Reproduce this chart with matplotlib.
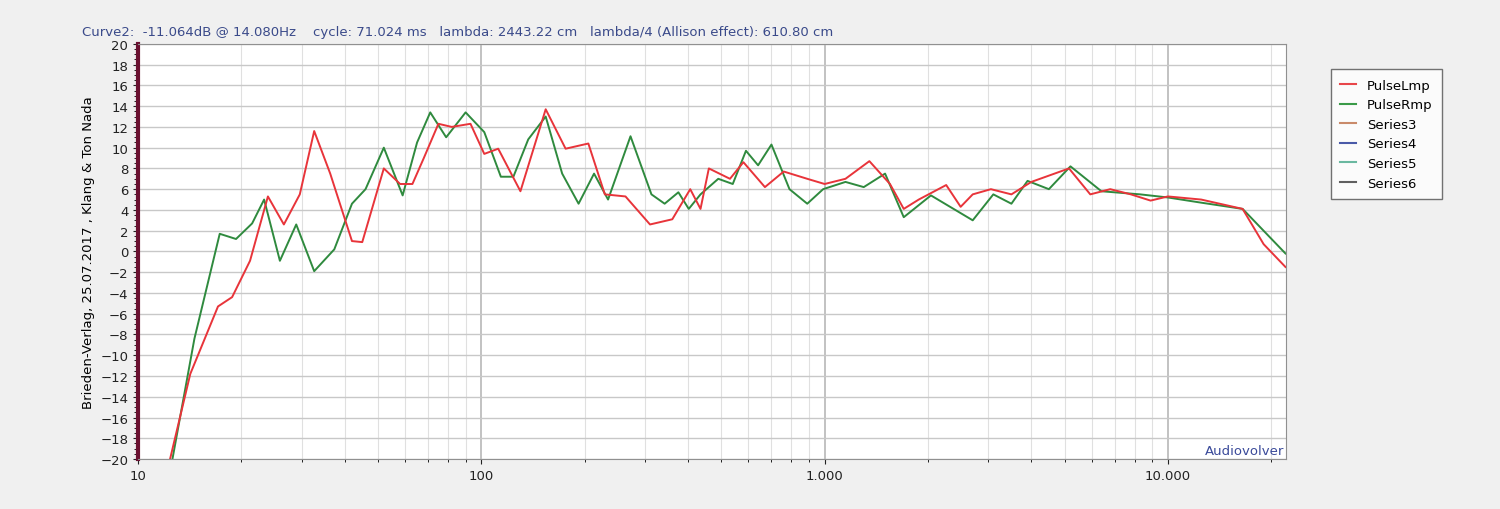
import matplotlib
matplotlib.use("Agg")
import matplotlib.pyplot as plt
from matplotlib.ticker import FixedLocator, NullFormatter, MultipleLocator
from matplotlib.lines import Line2D

red_f = [12.4,14.2,17.1,18.8,21.2,23.9,26.6,29.6,32.6,36.3,42,45,52,58,63,68,75,82,93,102,112,130,154,176,205,229,263,310,360,406,435,460,530,580,670,760,890,1000,1150,1350,1550,1700,1880,2260,2490,2700,3050,3500,4000,5150,5940,6790,7800,8900,10000,12500,16500,19000,22000]
red_db = [-20,-11.8,-5.3,-4.4,-0.9,5.3,2.6,5.5,11.6,7.5,1.0,0.9,8,6.5,6.5,9,12.3,12,12.3,9.4,9.9,5.8,13.7,9.9,10.4,5.5,5.3,2.6,3.1,6,4.1,8,7,8.6,6.2,7.7,7,6.5,7,8.7,6.5,4.1,5,6.4,4.3,5.5,6,5.5,6.7,8,5.5,6,5.5,4.9,5.3,5,4.1,0.7,-1.5]
green_f = [12.6,14.6,17.3,19.3,21.5,23.3,25.9,28.9,32.6,37.3,42,46,52,59,65,71,79,90,102,114,124,137,154,172,192,213,234,272,313,342,375,402,435,490,540,590,640,700,790,890,990,1150,1300,1500,1700,2040,2700,3100,3500,3900,4500,5200,6400,8300,10000,12500,16500,22000]
green_db = [-20,-8.4,1.7,1.2,2.7,5,-0.9,2.6,-1.9,0.2,4.6,6,10,5.4,10.5,13.4,11,13.4,11.5,7.2,7.2,10.8,13,7.5,4.6,7.5,5,11.1,5.5,4.6,5.7,4.1,5.5,7,6.5,9.7,8.3,10.3,6,4.6,6,6.7,6.2,7.5,3.3,5.4,3,5.5,4.6,6.8,6,8.2,5.8,5.5,5.2,4.7,4.1,-0.2]
legend_labels = ["PulseLmp","PulseRmp","Series3","Series4","Series5","Series6"]
legend_colors = ["#e8464a","#3a9a48","#c98a6a","#4a5aa8","#6ab8a0","#606060"]
xtick_vals = [10,100,1000,10000]
xtick_labels = ["10","100","1.000","10.000"]

fig = plt.figure(figsize=(15,5.1), dpi=100, facecolor="#f0f0f0")
ax = fig.add_axes([0.092,0.098,0.765,0.814])
ax.set_facecolor("white")
ax.set_xscale("log")
ax.set_xlim(10,22000)
ax.set_ylim(-20,20)
ax.yaxis.set_major_locator(MultipleLocator(2))
ax.yaxis.set_minor_locator(MultipleLocator(0.5))
ax.xaxis.set_major_locator(FixedLocator(xtick_vals))
ax.set_xticklabels(xtick_labels)
ax.xaxis.set_minor_formatter(NullFormatter())
ax.grid(True, which="major", axis="y", color="#c8c8c8", lw=1)
ax.grid(True, which="major", axis="x", color="#b8b8b8", lw=1.2)
ax.grid(True, which="minor", axis="x", color="#e0e0e0", lw=0.8)
ax.tick_params(axis="both", labelsize=9.5, colors="#222222")
ax.tick_params(axis="y", which="minor", length=3)
for s in ax.spines.values():
    s.set_color("#909090")
ax.spines["left"].set_color("#6a1030"); ax.spines["left"].set_linewidth(3)
ax.plot(green_f, green_db, color="#2f8a3e", lw=1.4)
ax.plot(red_f, red_db, color="#e8343a", lw=1.4)
ax.set_ylabel("Brieden-Verlag, 25.07.2017 , Klang & Ton Nada", fontsize=9.5)
ax.text(0.999,0.005,"Audiovolver",transform=ax.transAxes,ha="right",va="bottom",color="#3a4a9a",fontsize=9.5)
fig.text(0.055,0.93,"Curve2:  -11.064dB @ 14.080Hz    cycle: 71.024 ms   lambda: 2443.22 cm   lambda/4 (Allison effect): 610.80 cm",color="#3a4a8a",fontsize=9.5)
handles=[Line2D([0],[0],color=c,lw=1.5) for c in legend_colors]
fig.legend(handles,legend_labels,loc="upper left",bbox_to_anchor=(0.883,0.875),fontsize=9.5,frameon=True,fancybox=False,edgecolor="#505050",handlelength=1.2,labelspacing=0.5,borderpad=0.7)
plt.savefig("out.png", dpi=100, facecolor=fig.get_facecolor())
